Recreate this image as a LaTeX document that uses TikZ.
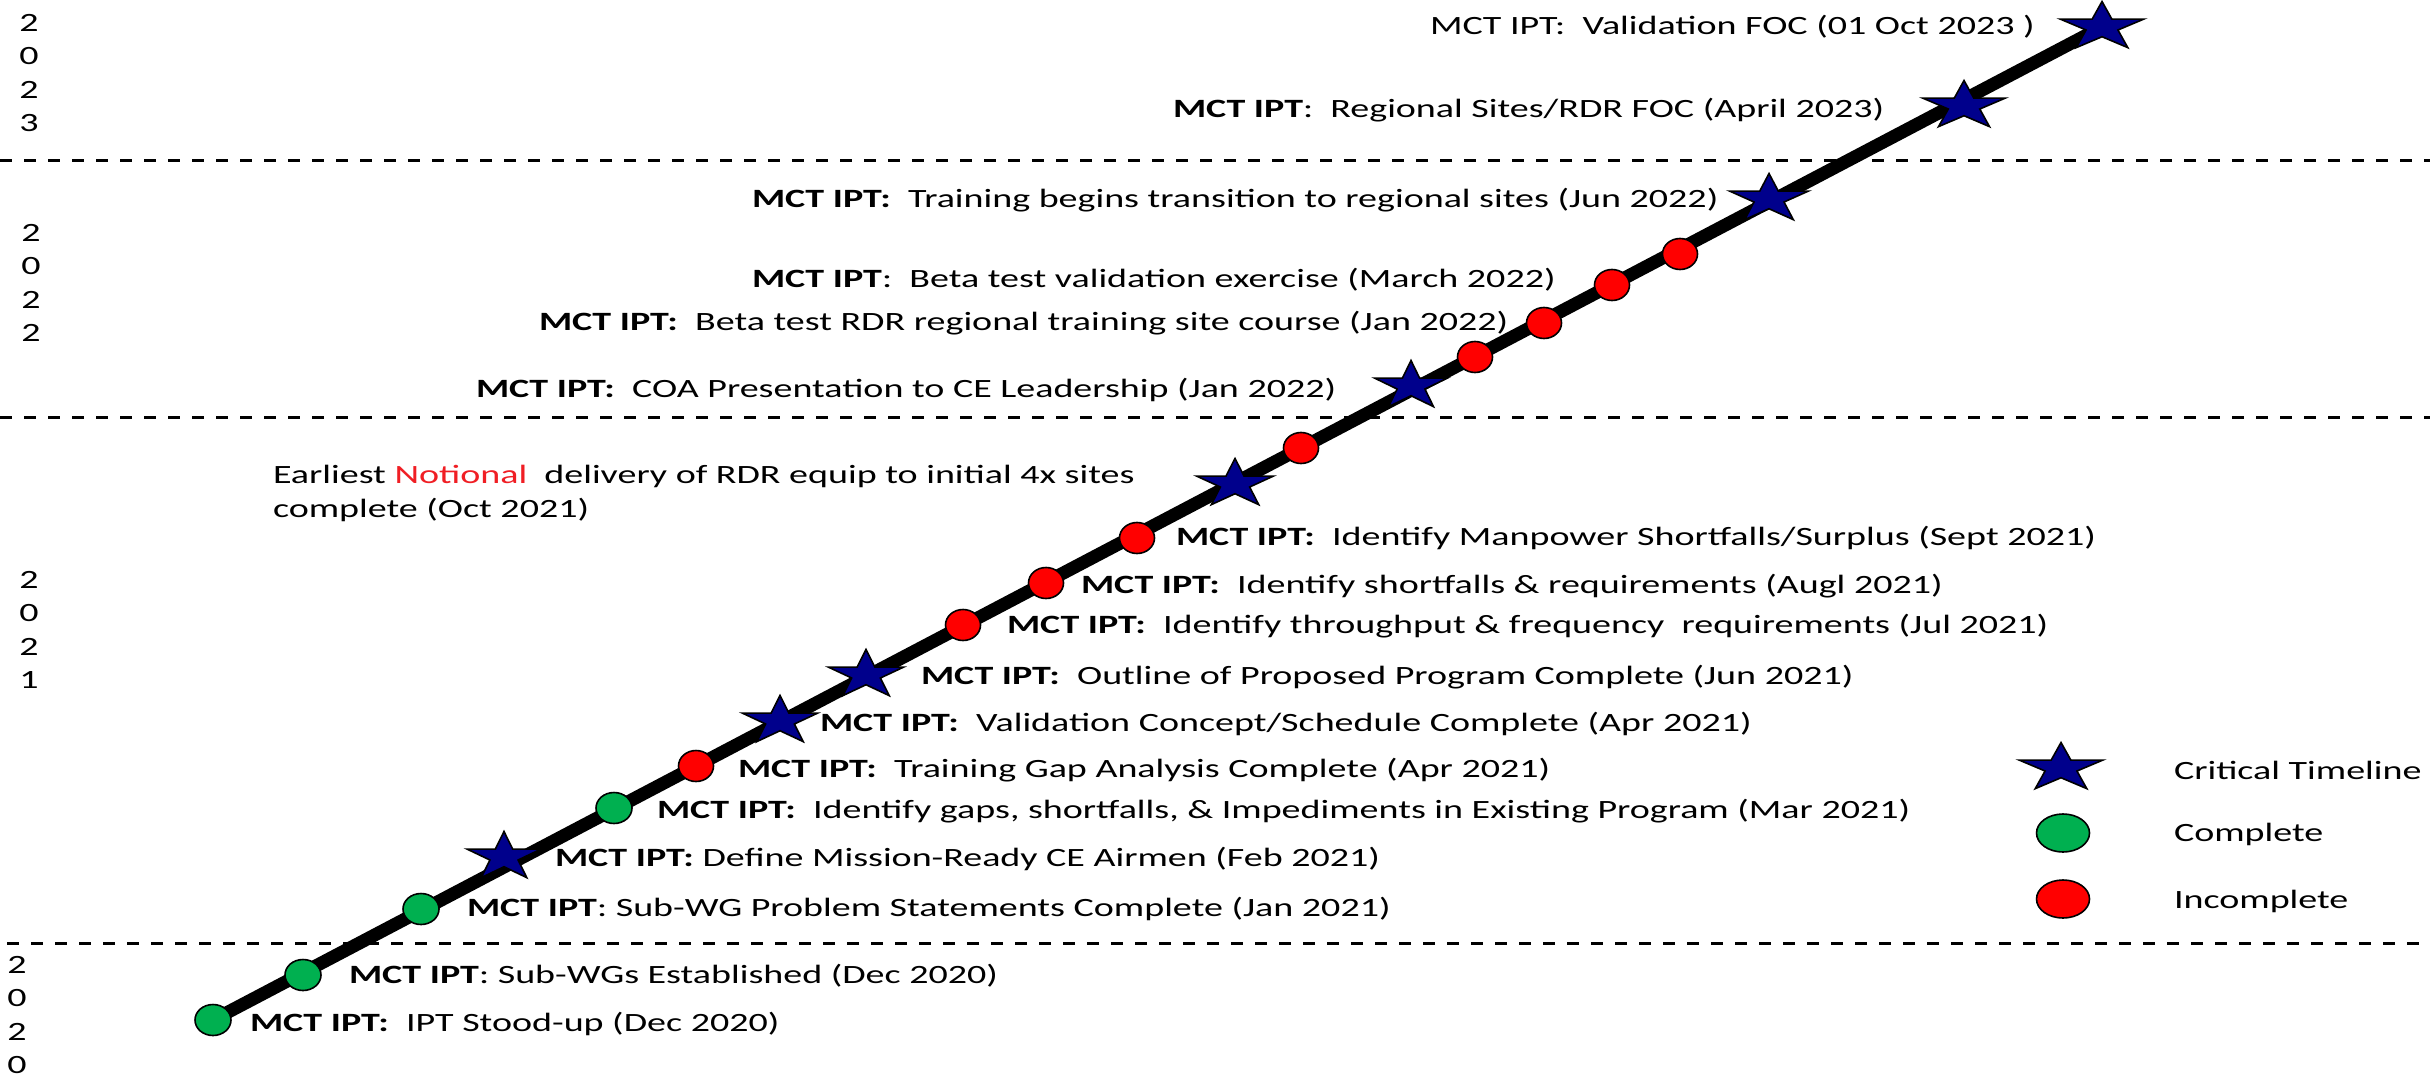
\documentclass[tikz,border=0pt]{standalone}
\usepackage{fontspec}
\setmainfont{Carlito}[FakeStretch=1.44]
\usetikzlibrary{shapes.geometric,backgrounds}
\definecolor{starblue}{RGB}{0,0,140}
\definecolor{okgreen}{RGB}{0,176,80}
\definecolor{badred}{RGB}{255,0,0}
\definecolor{notered}{RGB}{240,30,36}
\begin{document}
\begin{tikzpicture}[x=1pt,y=-1pt,
  every node/.style={inner sep=0pt, outer sep=0pt},
  lbl/.style={anchor=west, font=\fontsize{26.4}{34}\selectfont, text=black},
  yr/.style={align=center, font=\fontsize{26.4}{33.4}\selectfont},
  divider/.style={line width=3pt, dash pattern=on 12pt off 12pt, black},
  timeline/.style={line width=13pt, black},
  starmark/.style={star, star points=5, star point ratio=2.618, minimum size=51pt,
    fill=starblue, draw=black, line width=1.6pt, transform shape},
  donemark/.style={ellipse, minimum width=36pt, minimum height=31pt, fill=okgreen, draw=black, line width=1.6pt},
  openmark/.style={ellipse, minimum width=35pt, minimum height=31pt, fill=badred, draw=black, line width=1.6pt},
  legdone/.style={ellipse, minimum width=53pt, minimum height=38pt, fill=okgreen, draw=black, line width=1.6pt},
  legopen/.style={ellipse, minimum width=53pt, minimum height=38pt, fill=badred, draw=black, line width=1.6pt}
]
\begin{pgfonlayer}{background}
\fill[white] (0,0) rectangle (2430,1076);
\end{pgfonlayer}
\useasboundingbox (0,0) rectangle (2430,1076);

% year dividers
\coordinate (d1a) at (0,160);  \coordinate (d1b) at (2430,160);
\coordinate (d2a) at (0,417);  \coordinate (d2b) at (2430,417);
\coordinate (d3a) at (7,943);  \coordinate (d3b) at (2430,943);
\draw[divider] (d1a) -- (d1b);
\draw[divider] (d2a) -- (d2b);
\draw[divider] (d3a) -- (d3b);

% year labels
\node[yr] (y2023) at (29,73) {2\\0\\2\\3};
\node[yr] (y2022) at (31,283) {2\\0\\2\\2};
\node[yr] (y2021) at (29,630) {2\\0\\2\\1};
\node[yr] (y2020) at (17,1015) {2\\0\\2\\0};

% markers
\node[donemark] (m1) at (213,1020) {};
\node[donemark] (m2) at (303,975) {};
\node[donemark] (m3) at (421,909) {};
\begin{scope}[shift={(504,857)},xscale=1.52]\node[starmark] (m4) {};\end{scope}
\node[donemark] (m5) at (614,808) {};
\node[openmark] (m6) at (696,766) {};
\begin{scope}[shift={(780,721)},xscale=1.55]\node[starmark] (m7) {};\end{scope}
\begin{scope}[shift={(866,675)},xscale=1.55]\node[starmark] (m8) {};\end{scope}
\node[openmark] (m9) at (963,625) {};
\node[openmark] (m10) at (1046,583) {};
\node[openmark] (m11) at (1137,538) {};
\begin{scope}[shift={(1235,484)},xscale=1.58]\node[starmark] (m12) {};\end{scope}
\node[openmark] (m13) at (1301,448) {};
\begin{scope}[shift={(1411,386)},xscale=1.5]\node[starmark] (m14) {};\end{scope}
\node[openmark] (m15) at (1475,357) {};
\node[openmark] (m16) at (1544,323) {};
\node[openmark] (m17) at (1612,285) {};
\node[openmark] (m18) at (1680,254) {};
\begin{scope}[shift={(1769,199)},xscale=1.62]\node[starmark] (m19) {};\end{scope}
\begin{scope}[shift={(1964,106)},xscale=1.7]\node[starmark] (m20) {};\end{scope}
\begin{scope}[shift={(2102,27)},xscale=1.72]\node[starmark] (m21) {};\end{scope}

\begin{pgfonlayer}{background}
\draw[timeline] (m1.center) -- (m21.center);
\end{pgfonlayer}

% labels
\node[lbl] (t21) at (1430,27) {MCT IPT:~ Validation FOC (01 Oct 2023 )};
\node[lbl] (t20) at (1173,110) {\textbf{MCT IPT}:~ Regional Sites/RDR FOC (April 2023)};
\node[lbl] (t19) at (752,200) {\textbf{MCT IPT:}~ Training begins transition to regional sites (Jun 2022)};
\node[lbl] (t17) at (752,280) {\textbf{MCT IPT}:~ Beta test validation exercise (March 2022)};
\node[lbl] (t16) at (539,323) {\textbf{MCT IPT:}~ Beta test RDR regional training site course (Jan 2022)};
\node[lbl] (t14) at (476,390) {\textbf{MCT IPT:}~ COA Presentation to CE Leadership (Jan 2022)};
\node[lbl, align=left] (t12) at (273,493) {Earliest \textcolor{notered}{Notional}~ delivery of RDR equip to initial 4x sites\\complete (Oct 2021)};
\node[lbl] (t11) at (1176,538) {\textbf{MCT IPT:}~ Identify Manpower Shortfalls/Surplus (Sept 2021)};
\node[lbl] (t10) at (1081,586) {\textbf{MCT IPT:}~ Identify shortfalls \& requirements (Augl 2021)};
\node[lbl] (t9) at (1007,626) {\textbf{MCT IPT:}~ Identify throughput \& frequency~ requirements (Jul 2021)};
\node[lbl] (t8) at (921,677) {\textbf{MCT IPT:}~ Outline of Proposed Program Complete (Jun 2021)};
\node[lbl] (t7) at (820,724) {\textbf{MCT IPT:}~ Validation Concept/Schedule Complete (Apr 2021)};
\node[lbl] (t6) at (738,770) {\textbf{MCT IPT:}~ Training Gap Analysis Complete (Apr 2021)};
\node[lbl] (t5) at (657,811) {\textbf{MCT IPT:}~ Identify gaps, shortfalls, \& Impediments in Existing Program (Mar 2021)};
\node[lbl] (t4) at (555,859) {\textbf{MCT IPT:} Define Mission-Ready CE Airmen (Feb 2021)};
\node[lbl] (t3) at (467,909) {\textbf{MCT IPT}: Sub-WG Problem Statements Complete (Jan 2021)};
\node[lbl] (t2) at (349,976) {\textbf{MCT IPT}: Sub-WGs Established (Dec 2020)};
\node[lbl] (t1) at (250,1024) {\textbf{MCT IPT:}~ IPT Stood-up (Dec 2020)};

% legend
\begin{scope}[shift={(2061,768)},xscale=1.72]\node[starmark] (lstar) {};\end{scope}
\node[legdone] (lgreen) at (2063,833) {};
\node[legopen] (lred) at (2063,899) {};
\node[lbl] (lt1) at (2174,770) {Critical Timeline};
\node[lbl] (lt2) at (2174,834) {Complete};
\node[lbl] (lt3) at (2174,901) {Incomplete};
\end{tikzpicture}
\end{document}
